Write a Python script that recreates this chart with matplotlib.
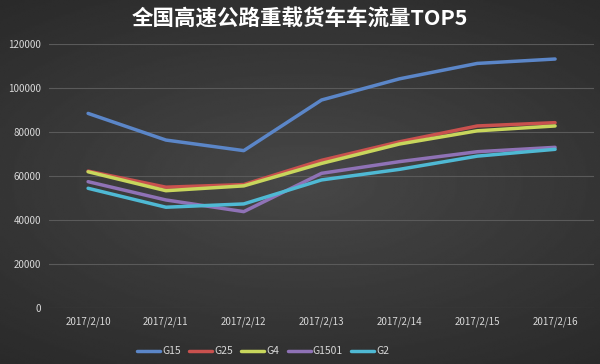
import numpy as np
import matplotlib

matplotlib.use("Agg")
import matplotlib.pyplot as plt

plt.rcParams["font.family"] = ["Noto Sans CJK SC", "DejaVu Sans"]

dates = ["2017/2/10", "2017/2/11", "2017/2/12", "2017/2/13",
         "2017/2/14", "2017/2/15", "2017/2/16"]
g15 = [88500, 76400, 71600, 94600, 104200, 111200, 113200]
g25 = [62300, 55000, 56200, 67200, 75600, 82800, 84300]
g4 = [62000, 53400, 55600, 65800, 74600, 80600, 82800]
g1501 = [57500, 49200, 43900, 61300, 66600, 71100, 73100]
g2 = [54500, 45900, 47400, 58300, 63100, 69100, 72200]

series = [("G15", g15, "#5b86c8"), ("G25", g25, "#c9514e"),
          ("G4", g4, "#c8d65c"), ("G1501", g1501, "#8f72b6"),
          ("G2", g2, "#4fb9d4")]

fig = plt.figure(figsize=(6.0, 3.64), dpi=100)

# dark background with a lighter centre
yy, xx = np.mgrid[-1:1:200j, -1:1:330j]
r = np.sqrt((xx * 0.8) ** 2 + yy ** 2)
bg = np.clip(0.28 - 0.09 * r, 0.16, 0.3)
bgax = fig.add_axes([0, 0, 1, 1], zorder=-5)
bgax.imshow(bg, cmap="gray", vmin=0, vmax=1, aspect="auto", interpolation="bilinear")
bgax.axis("off")

ax = fig.add_axes([0.082, 0.153, 0.908, 0.726])
ax.patch.set_alpha(0)
x = np.arange(len(dates))
for name, vals, col in series:
    ax.plot(x, vals, color=col, lw=2.5, solid_capstyle="round",
            solid_joinstyle="round", label=name)

ax.set_xlim(-0.5, len(dates) - 0.5)
ax.set_ylim(0, 120000)
ax.set_yticks(np.arange(0, 120001, 20000))
ax.set_xticks(x)
ax.set_xticklabels(dates)
ax.grid(axis="y", color="#5a5a5a", lw=0.8)
ax.set_axisbelow(True)
for s in ax.spines.values():
    s.set_visible(False)
ax.tick_params(length=0, colors="#d8d8d8", labelsize=7, pad=6)

fig.text(0.5, 0.948, "全国高速公路重载货车车流量TOP5", ha="center", va="center",
         color="white", fontsize=15.5, fontweight="bold")

leg = ax.legend(loc="center", bbox_to_anchor=(0.393, -0.163), ncol=5, frameon=False,
                fontsize=7.5, handlelength=2.2, handletextpad=0.2, columnspacing=0.8)
for t in leg.get_texts():
    t.set_color("#d8d8d8")

fig.savefig("out.png", dpi=100)
